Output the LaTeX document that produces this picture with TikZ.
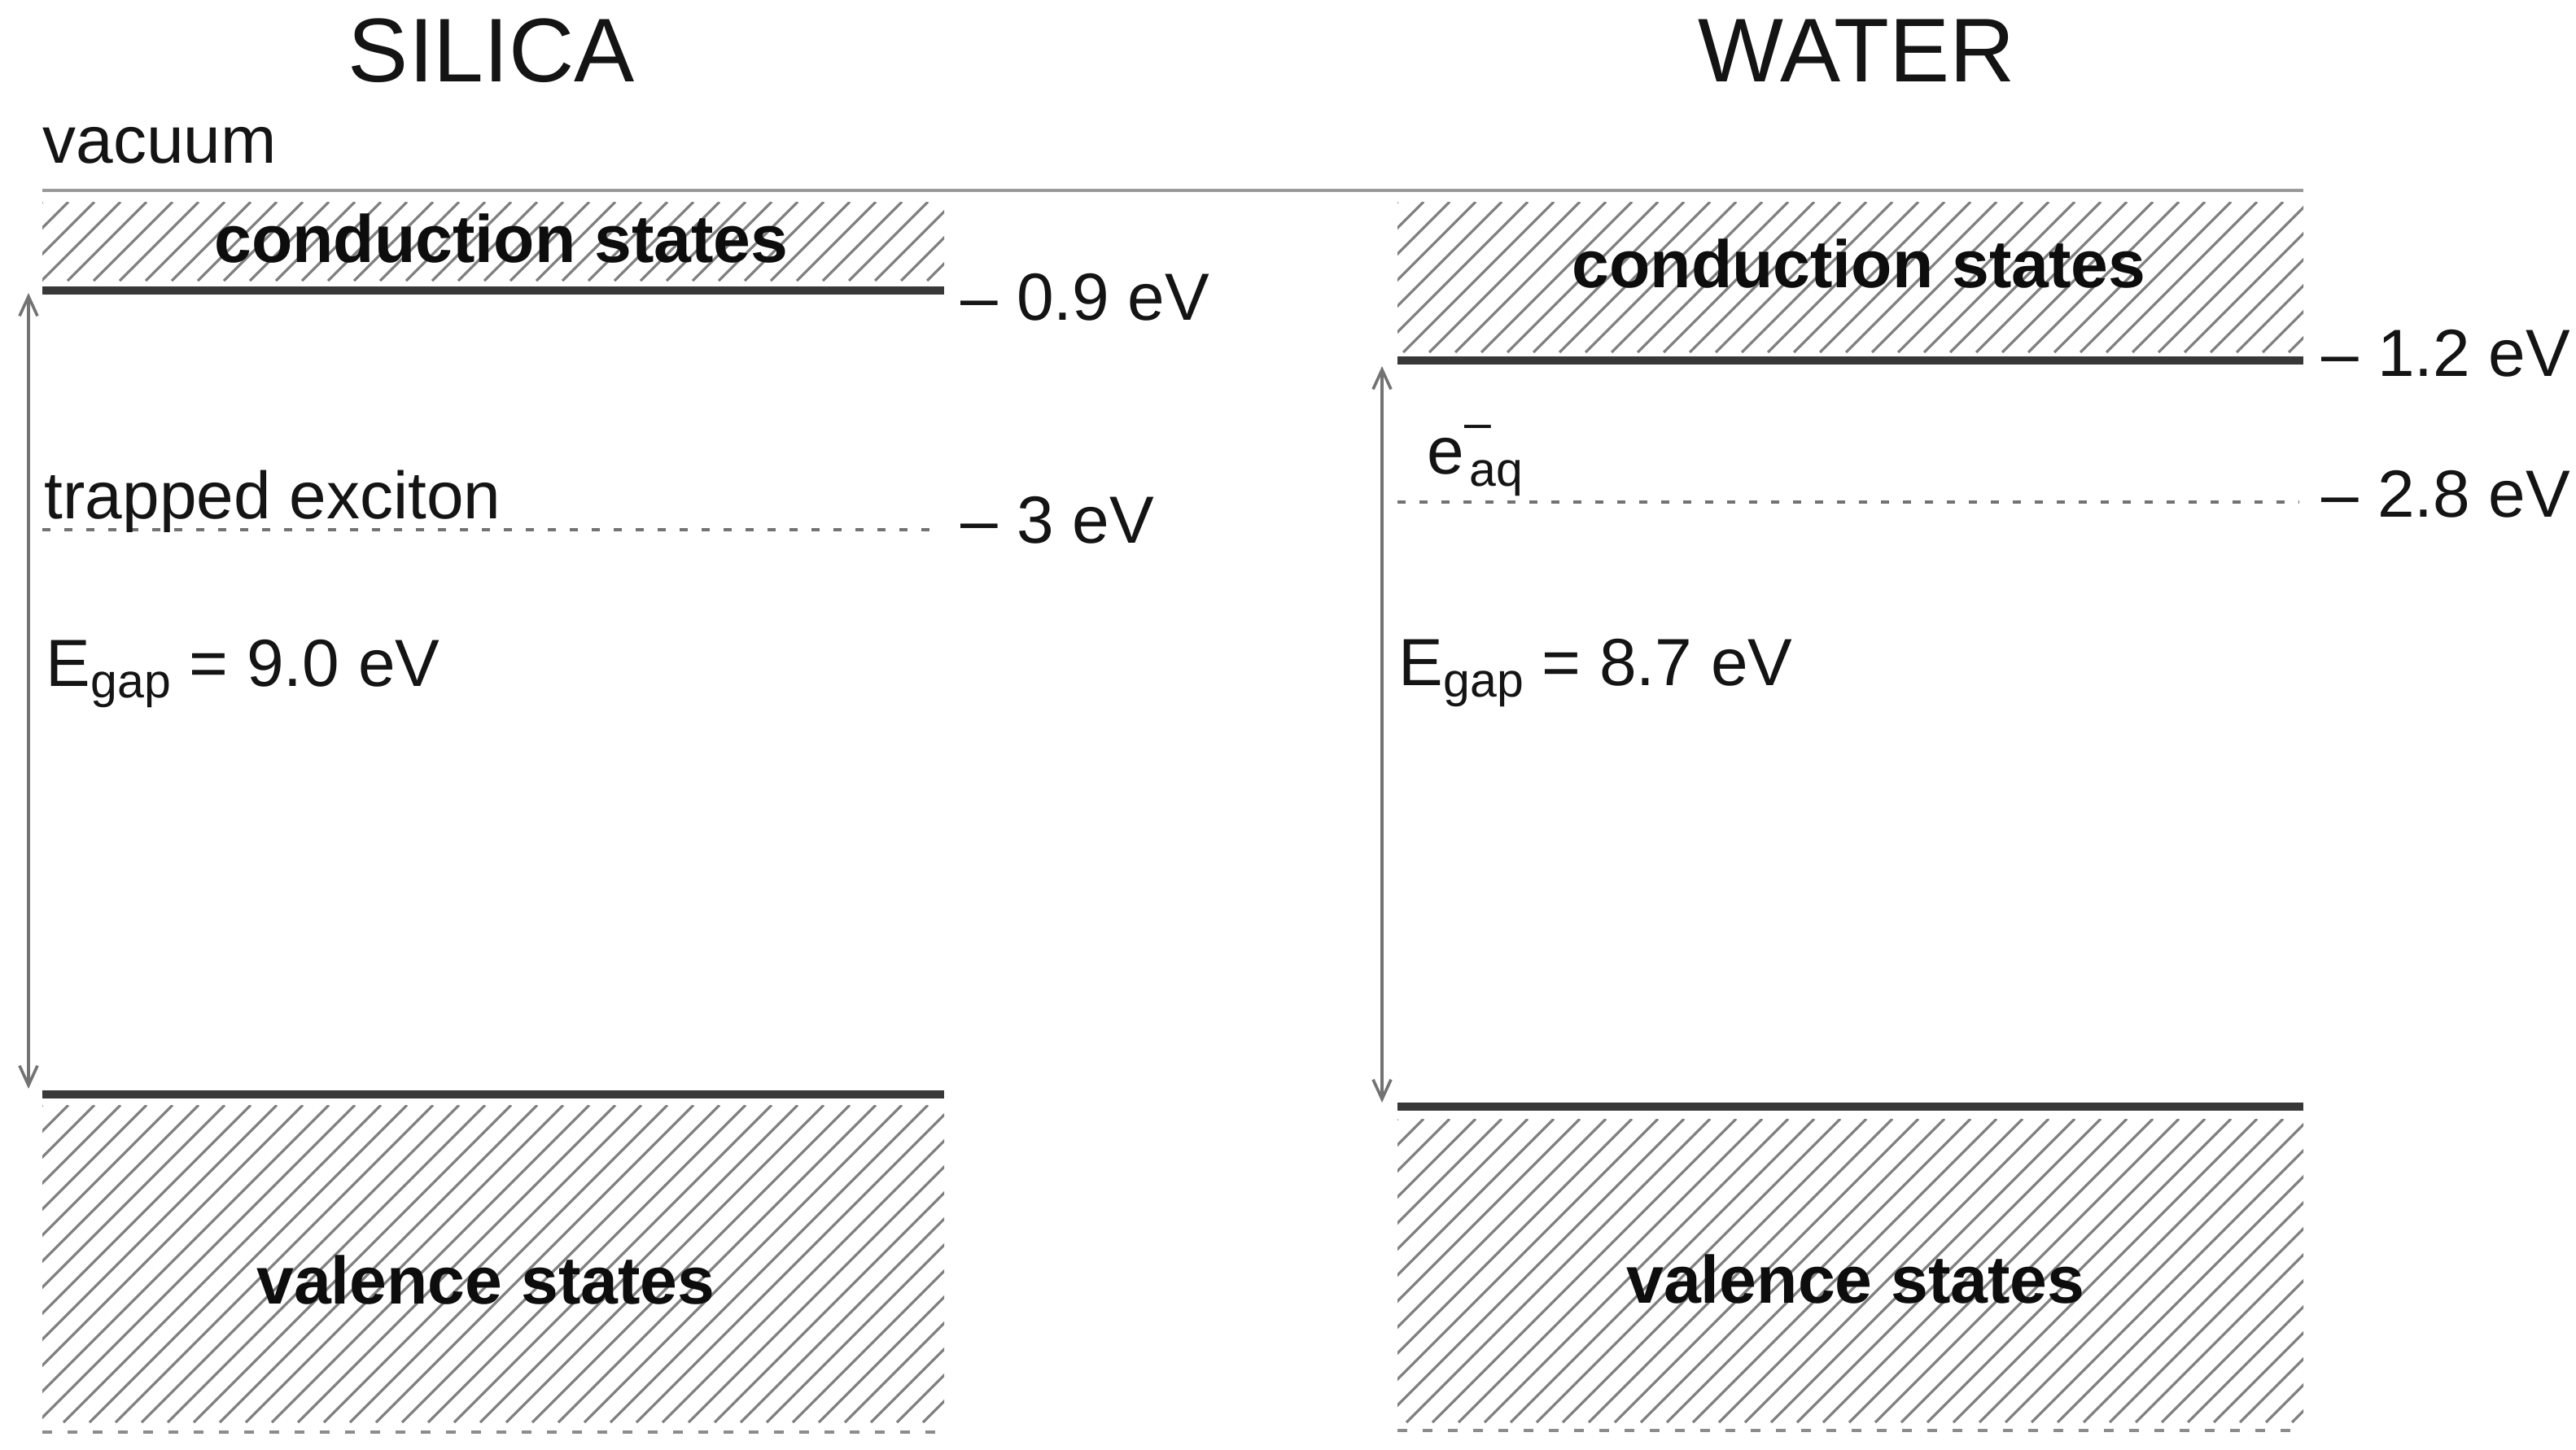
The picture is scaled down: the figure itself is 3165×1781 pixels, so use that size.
\documentclass[tikz,border=0pt]{standalone}
\usepackage{fontspec}
\setmainfont{Liberation Sans}
\usetikzlibrary{arrows.meta}
\newcommand{\hatchbox}[4]{%
  \begin{scope}
    \clip (#1,#2) rectangle (#3,#4);
    \pgfmathsetmacro{\hh}{#4-#2}
    \pgfmathtruncatemacro{\nn}{(#3-#1+\hh)/32+1}
    \foreach \k in {0,...,\nn}{
      \draw[hatchline] ({#1-\hh+\k*32},#4) -- ++(\hh,-\hh);
    }
  \end{scope}}
\newcommand{\subsz}{\fontsize{14.75}{16}\selectfont}
\begin{document}
\begin{tikzpicture}[x=0.25pt,y=-0.25pt,
  lbl/.style={anchor=base west, inner sep=0pt, font=\fontsize{20.5}{24}\selectfont, text=black!92},
  bandlbl/.style={anchor=base, inner sep=0pt, font=\fontsize{20.6}{24}\selectfont\bfseries, text=black!95},
  ttl/.style={anchor=base, inner sep=0pt, font=\fontsize{27.8}{32}\selectfont, text=black!92},
  bandedge/.style={line width=2.6pt, draw=black!78},
  vac/.style={line width=1pt, draw=black!40},
  lvl/.style={line width=1pt, draw=black!55, dash pattern=on 2.5pt off 4.25pt},
  bottomdots/.style={line width=1.2pt, draw=black!45, dash pattern=on 3pt off 4.75pt},
  hatchline/.style={line width=0.8pt, draw=black!50},
  gaparrow/.style={draw=black!55, line width=0.9pt,
    {Straight Barb[length=6pt,width=5.5pt]}-{Straight Barb[length=6pt,width=5.5pt]}}
]
\useasboundingbox (0,0) rectangle (3165,1781);

% titles
\node[ttl] (silica) at (604,100) {SILICA};
\node[ttl] (water) at (2281,100) {WATER};
\node[lbl] (vac) at (52,200) {vacuum};

% vacuum level
\draw[vac] (52,234) -- (2830,234);

% ---- silica ----
\hatchbox{52}{248}{1160}{345}
\draw[bandedge] (52,357) -- (1160,357);
\draw[lvl] (52,651) -- (1150,651);
\draw[bandedge] (52,1345) -- (1160,1345);
\hatchbox{52}{1358}{1160}{1748}
\draw[bottomdots] (52,1760) -- (1160,1760);

\coordinate (sa1) at (35,360);
\coordinate (sa2) at (35,1338);
\draw[gaparrow] (sa1) -- (sa2);

\node[bandlbl] (scond) at (616,322) {conduction states};
\node[lbl] (s09) at (1180,393) {– 0.9 eV};
\node[lbl] (trap) at (54,637) {trapped exciton};
\node[lbl] (s3) at (1180,667) {– 3 eV};
\node[lbl] (sgap) at (56,843) {E\raisebox{-3.5pt}{\subsz gap} = 9.0 eV};
\node[bandlbl] (sval) at (597,1602) {valence states};

% ---- water ----
\hatchbox{1717}{248}{2830}{433}
\draw[bandedge] (1717,443) -- (2830,443);
\draw[lvl] (1717,617) -- (2825,617);
\draw[bandedge] (1717,1360) -- (2830,1360);
\hatchbox{1717}{1375}{2830}{1748}
\draw[bottomdots] (1717,1758) -- (2830,1758);

\coordinate (wa1) at (1698,450);
\coordinate (wa2) at (1698,1355);
\draw[gaparrow] (wa1) -- (wa2);

\node[bandlbl] (wcond) at (2284,353) {conduction states};
\node[lbl] (w12) at (2852,462) {– 1.2 eV};
\node[lbl] (eaq) at (1753,582) {e\rlap{\raisebox{10.75pt}{\subsz –}}\kern1.5pt\raisebox{-3.75pt}{\subsz aq}};
\node[lbl] (w28) at (2852,635) {– 2.8 eV};
\node[lbl] (wgap) at (1718,842) {E\raisebox{-3.5pt}{\subsz gap} = 8.7 eV};
\node[bandlbl] (wval) at (2280,1601) {valence states};
\end{tikzpicture}
\end{document}
